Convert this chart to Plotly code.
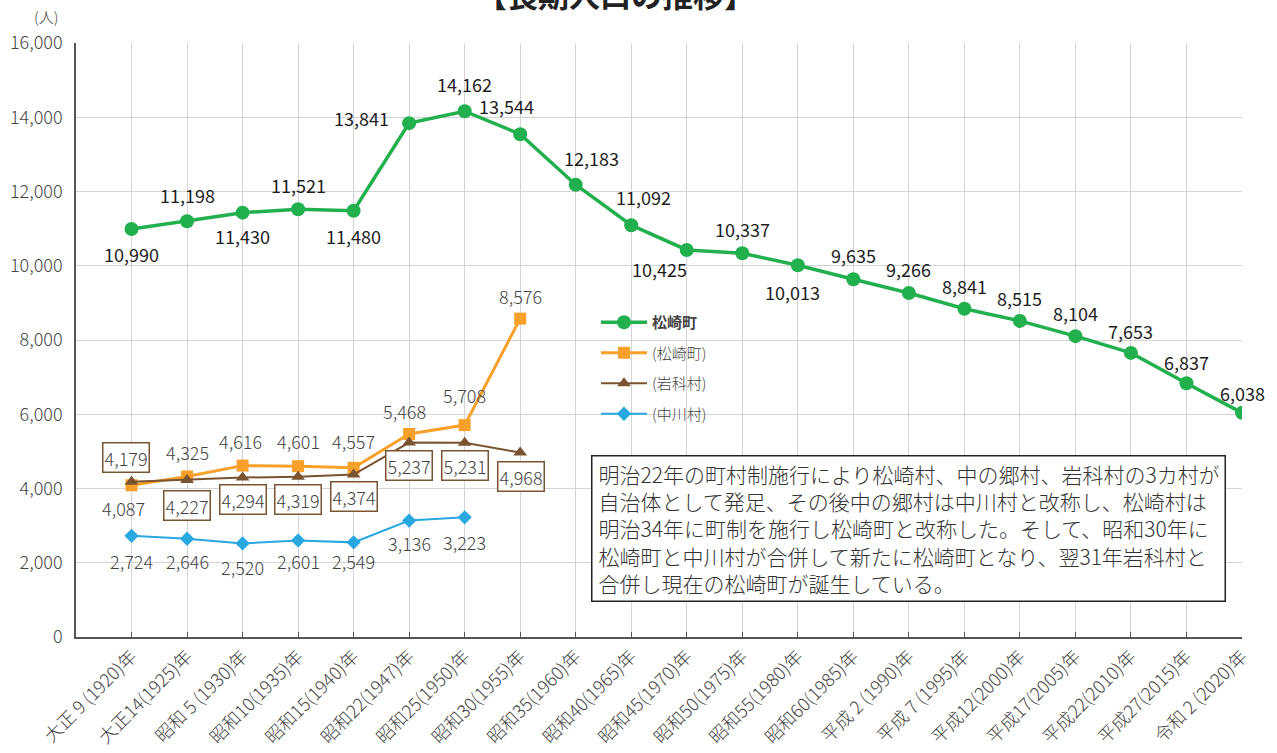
import plotly.graph_objects as go

categories = ["大正 9 (1920)年", "大正14(1925)年", "昭和 5 (1930)年", "昭和10(1935)年", "昭和15(1940)年",
              "昭和22(1947)年", "昭和25(1950)年", "昭和30(1955)年", "昭和35(1960)年", "昭和40(1965)年",
              "昭和45(1970)年", "昭和50(1975)年", "昭和55(1980)年", "昭和60(1985)年", "平成 2 (1990)年",
              "平成 7 (1995)年", "平成12(2000)年", "平成17(2005)年", "平成22(2010)年", "平成27(2015)年",
              "令和 2 (2020)年"]
matsuzaki_total = [10990, 11198, 11430, 11521, 11480, 13841, 14162, 13544, 12183, 11092, 10425,
                   10337, 10013, 9635, 9266, 8841, 8515, 8104, 7653, 6837, 6038]
matsuzaki_old = [4087, 4325, 4616, 4601, 4557, 5468, 5708, 8576]
iwashina = [4179, 4227, 4294, 4319, 4374, 5237, 5231, 4968]
nakagawa = [2724, 2646, 2520, 2601, 2549, 3136, 3223]
yticks = [0, 2000, 4000, 6000, 8000, 10000, 12000, 14000, 16000]

FONT = "Noto Sans CJK JP"
GREEN = "#22b04f"
ORANGE = "#f7a12b"
BROWN = "#7a5430"
BLUE = "#29a8e0"

# label offsets (pixels: dx, dy up)
green_off = [(0, -25), (0, 26), (0, -23), (0, 24), (0, -25), (-48, 5), (0, 27), (-14, 28), (16, 27),
             (12, 28), (-27, -19), (0, 24), (-5, -27), (0, 24), (0, 24), (0, 23), (0, 23), (0, 23),
             (0, 22), (0, 21), (0, 20)]
orange_off = [(-8, -23), (0, 24), (-2, 25), (0, 25), (0, 27), (-5, 23), (0, 30), (0, 23)]
brown_off = [(-6, 24), (0, -25), (0, -22), (0, -23), (0, -22), (0, -23), (0, -23), (1, -24)]
blue_off = [(0, -25), (0, -22), (0, -24), (0, -21), (0, -19), (0, -22), (0, -25)]

x_all = list(range(len(categories)))

fig = go.Figure()
fig.add_trace(go.Scatter(x=x_all, y=matsuzaki_total, mode="lines+markers", name="<b>松崎町</b>",
                         line=dict(color=GREEN, width=3.5), marker=dict(symbol="circle", size=14, color=GREEN),
                         legendgroup="a"))
fig.add_trace(go.Scatter(x=x_all[:len(matsuzaki_old)], y=matsuzaki_old, mode="lines+markers", name="(松崎町)",
                         line=dict(color=ORANGE, width=3), marker=dict(symbol="square", size=12, color=ORANGE),
                         legendgroup="b"))
fig.add_trace(go.Scatter(x=x_all[:len(iwashina)], y=iwashina, mode="lines+markers", name="(岩科村)",
                         line=dict(color=BROWN, width=2), marker=dict(symbol="triangle-up", size=12, color=BROWN),
                         legendgroup="c"))
fig.add_trace(go.Scatter(x=x_all[:len(nakagawa)], y=nakagawa, mode="lines+markers", name="(中川村)",
                         line=dict(color=BLUE, width=2), marker=dict(symbol="diamond", size=11, color=BLUE),
                         legendgroup="d"))

ann = []
for i, v in enumerate(matsuzaki_total):
    dx, dy = green_off[i]
    ann.append(dict(x=i, y=v, xref="x", yref="y", text=f"{v:,}", showarrow=False, xshift=dx, yshift=dy,
                    font=dict(family=FONT, size=18, color="#1e1e1e", weight=400)))
for i, v in enumerate(matsuzaki_old):
    dx, dy = orange_off[i]
    ann.append(dict(x=i, y=v, xref="x", yref="y", text=f"{v:,}", showarrow=False, xshift=dx, yshift=dy,
                    font=dict(family=FONT, size=18, color="#444444", weight=300)))
for i, v in enumerate(iwashina):
    dx, dy = brown_off[i]
    ann.append(dict(x=i, y=v, xref="x", yref="y", text=f"{v:,}", showarrow=False, xshift=dx, yshift=dy,
                    font=dict(family=FONT, size=18, color="#444444", weight=300), bordercolor=BROWN,
                    borderwidth=1.5, borderpad=1, bgcolor="white"))
for i, v in enumerate(nakagawa):
    dx, dy = blue_off[i]
    ann.append(dict(x=i, y=v, xref="x", yref="y", text=f"{v:,}", showarrow=False, xshift=dx, yshift=dy,
                    font=dict(family=FONT, size=18, color="#444444", weight=300)))

note = ("明治22年の町村制施行により松崎村、中の郷村、岩科村の3カ村が<br>"
        "自治体として発足、その後中の郷村は中川村と改称し、松崎村は<br>"
        "明治34年に町制を施行し松崎町と改称した。そして、昭和30年に<br>"
        "松崎町と中川村が合併して新たに松崎町となり、翌31年岩科村と<br>"
        "合併し現在の松崎町が誕生している。")
ann.append(dict(x=(591 - 76) / 1166, y=(637 - 455) / 594, xref="paper", yref="paper", xanchor="left",
                yanchor="top", text=note, showarrow=False, align="left", valign="middle",
                width=620, height=132, bordercolor="#222222", borderwidth=1.5, borderpad=6, bgcolor="white",
                font=dict(family=FONT, size=21, color="#333333", weight=300)))
ann.append(dict(x=(46 - 76) / 1166, y=(637 - 16) / 594, xref="paper", yref="paper", text="(人)",
                xanchor="center", yanchor="middle",
                showarrow=False, font=dict(family=FONT, size=15, color="#444444", weight=300)))
ann.append(dict(x=(615 - 76) / 1166, y=(637 + 7) / 594, xref="paper", yref="paper", text="<b>【長期人口の推移】</b>",
                showarrow=False, xanchor="center", yanchor="middle",
                font=dict(family=FONT, size=31, color="#222222")))

fig.update_layout(
    width=1277, height=753,
    margin=dict(l=76, r=35, t=43, b=116),
    paper_bgcolor="white", plot_bgcolor="white",
    font=dict(family=FONT, color="#444444"),
    showlegend=True,
    legend=dict(x=(596 - 76) / 1166, y=(637 - 306) / 594, xanchor="left", yanchor="top",
                bgcolor="rgba(0,0,0,0)", font=dict(family=FONT, size=15, color="#444444", weight=300),
                traceorder="grouped", tracegroupgap=8, itemwidth=46),
    annotations=ann,
)
fig.update_xaxes(range=[-1, 20], tickmode="array", tickvals=x_all, ticktext=categories, tickangle=-45,
                 showgrid=True, gridcolor="#d4d4d4", gridwidth=1, showline=True, linecolor="#555555",
                 linewidth=1.5, ticks="inside", ticklen=5, tickcolor="#555555", automargin=False,
                 tickfont=dict(family=FONT, size=18, color="#444444", weight=300), zeroline=False)
fig.update_yaxes(range=[0, 16000], tickmode="array", tickvals=yticks, ticktext=[f"{t:,}" for t in yticks],
                 showgrid=True, gridcolor="#d4d4d4", gridwidth=1, showline=True, linecolor="#555555",
                 linewidth=1.5, ticks="", tickfont=dict(family=FONT, size=18, color="#444444", weight=300),
                 ticklabelstandoff=8, zeroline=False, automargin=False)

fig.write_html("out.html", config={"displayModeBar": False},
               post_script="document.body.style.margin='0';document.body.style.overflow='hidden';")
